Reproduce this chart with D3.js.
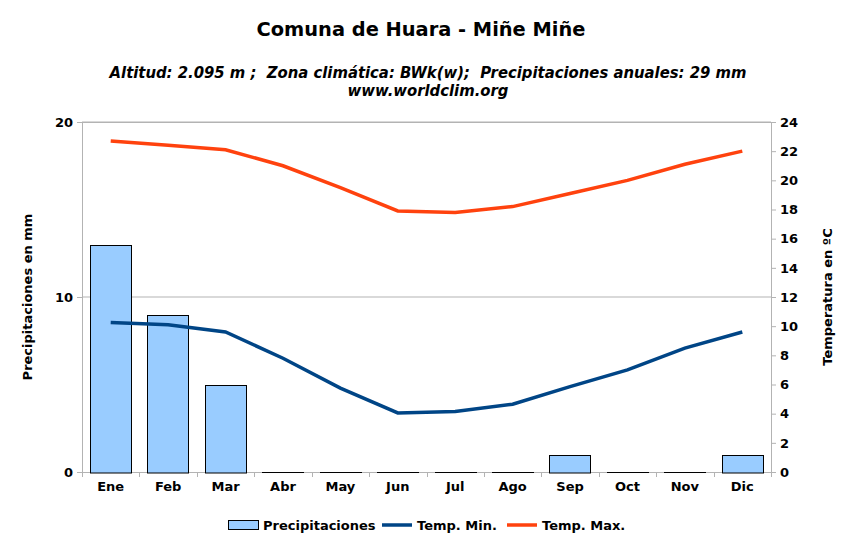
<!DOCTYPE html>
<html>
<head>
<meta charset="utf-8">
<script src="https://d3js.org/d3.v7.min.js"></script>
<style>
  body { margin: 0; background: #fff; }
  text { font-family: "DejaVu Sans", sans-serif; fill: #000; }
  .cond { font-family: "DejaVu Sans Condensed", "DejaVu Sans", sans-serif; font-stretch: condensed; white-space: pre; }
</style>
</head>
<body>
<div id="chart"></div>
<script>
// data
const months = ["Ene", "Feb", "Mar", "Abr", "May", "Jun", "Jul", "Ago", "Sep", "Oct", "Nov", "Dic"];
const precip = [13, 9, 5, 0, 0, 0, 0, 0, 1, 0, 0, 1];
const tempMin = [10.25, 10.1, 9.6, 7.8, 5.75, 4.05, 4.15, 4.65, 5.85, 7.0, 8.5, 9.6];
const tempMax = [22.7, 22.4, 22.1, 21.0, 19.5, 17.9, 17.8, 18.2, 19.1, 20.0, 21.1, 22.0];
const precipTicks = [0, 10, 20];
const tempTicks = d3.range(0, 25, 2);

const W = 857, H = 537;
const plot = { left: 82, right: 771, top: 122, bottom: 472 };

const svg = d3.select("#chart").append("svg")
  .attr("width", W).attr("height", H);

const x = d3.scaleBand().domain(months)
  .range([plot.left, plot.right]).paddingInner(0.28).paddingOuter(0.14);
const xb = d3.scaleBand().domain(months).range([plot.left, plot.right]);
const yP = d3.scaleLinear().domain([0, 20]).range([plot.bottom, plot.top]);
const yT = d3.scaleLinear().domain([0, 24]).range([plot.bottom, plot.top]);

// titles
svg.append("text")
  .attr("x", 421).attr("y", 36).attr("text-anchor", "middle")
  .style("font-size", "19.4px").style("font-weight", "bold")
  .text("Comuna de Huara - Miñe Miñe");
svg.append("text").attr("class", "cond").attr("xml:space", "preserve")
  .attr("x", 428).attr("y", 78).attr("text-anchor", "middle")
  .style("font-size", "16.5px").style("font-weight", "bold").style("font-style", "italic")
  .text("Altitud: 2.095 m ;  Zona climática: BWk(w);  Precipitaciones anuales: 29 mm");
svg.append("text").attr("class", "cond")
  .attr("x", 428).attr("y", 96).attr("text-anchor", "middle")
  .style("font-size", "16.5px").style("font-weight", "bold").style("font-style", "italic")
  .text("www.worldclim.org");

// grid
svg.append("g").selectAll("line").data(precipTicks.slice(1)).join("line")
  .attr("x1", plot.left).attr("x2", plot.right)
  .attr("y1", d => yP(d)).attr("y2", d => yP(d))
  .attr("stroke", "#b3b3b3").attr("stroke-width", 1);

// axes
const axisL = svg.append("g").attr("transform", `translate(${plot.left},0)`)
  .call(d3.axisLeft(yP).tickValues(precipTicks).tickSize(5).tickPadding(4));
const axisR = svg.append("g").attr("transform", `translate(${plot.right},0)`)
  .call(d3.axisRight(yT).tickValues(tempTicks).tickSize(5).tickPadding(4));
const axisB = svg.append("g").attr("transform", `translate(0,${plot.bottom})`)
  .call(d3.axisBottom(xb).tickSize(0).tickPadding(10));
[axisL, axisR, axisB].forEach(a => {
  a.selectAll("path, line").attr("stroke", "#b3b3b3");
  a.selectAll("text").style("font-size", "13px").style("font-weight", "bold")
    .style("font-family", "DejaVu Sans, sans-serif").attr("fill", "#000");
});
axisL.select("path").attr("d", `M0.5,${plot.top}V${plot.bottom + 5}`);
axisR.select("path").attr("d", `M0.5,${plot.top}V${plot.bottom + 5}`);
axisB.select("path").attr("d", `M${plot.left},0.5H${plot.right}`);
// category separators
axisB.append("g").selectAll("line").data(months.slice(1)).join("line")
  .attr("x1", d => Math.round(xb(d)) + 0.5).attr("x2", d => Math.round(xb(d)) + 0.5)
  .attr("y1", 0).attr("y2", 5).attr("stroke", "#b3b3b3");
svg.append("line")
  .attr("x1", plot.left).attr("x2", plot.right)
  .attr("y1", plot.top + 0.5).attr("y2", plot.top + 0.5).attr("stroke", "#b3b3b3");

// axis titles
svg.append("text")
  .attr("transform", `translate(32,${(plot.top + plot.bottom) / 2}) rotate(-90)`)
  .attr("text-anchor", "middle").style("font-size", "13px").style("font-weight", "bold")
  .text("Precipitaciones en mm");
svg.append("text")
  .attr("transform", `translate(832,${(plot.top + plot.bottom) / 2}) rotate(-90)`)
  .attr("text-anchor", "middle").style("font-size", "13px").style("font-weight", "bold")
  .text("Temperatura en ºC");

// bars
svg.append("g").selectAll("rect").data(precip).join("rect")
  .attr("x", (d, i) => Math.round(x(months[i])) + 0.5)
  .attr("y", d => Math.round(yP(d)) + 0.5)
  .attr("width", Math.round(x.bandwidth()))
  .attr("height", d => Math.max(0.01, yP(0) - yP(d)))
  .attr("fill", "#99ccff").attr("stroke", "#000").attr("stroke-width", 1);

// lines
const lineOf = vals => d3.line()
  .x((d, i) => xb(months[i]) + xb.bandwidth() / 2)
  .y(d => yT(d))(vals);
svg.append("path").attr("d", lineOf(tempMin))
  .attr("fill", "none").attr("stroke", "#004586").attr("stroke-width", 3.5);
svg.append("path").attr("d", lineOf(tempMax))
  .attr("fill", "none").attr("stroke", "#ff420e").attr("stroke-width", 3.5);

// legend
const lg = svg.append("g").attr("transform", "translate(0,525)");
lg.append("rect").attr("x", 228.5).attr("y", -4.5).attr("width", 30).attr("height", 9)
  .attr("fill", "#99ccff").attr("stroke", "#000");
lg.append("text").attr("x", 263).attr("y", 5).style("font-size", "13px").style("font-weight", "bold")
  .text("Precipitaciones");
lg.append("line").attr("x1", 382).attr("x2", 412).attr("y1", 0).attr("y2", 0)
  .attr("stroke", "#004586").attr("stroke-width", 3.5);
lg.append("text").attr("x", 417).attr("y", 5).style("font-size", "13px").style("font-weight", "bold")
  .text("Temp. Min.");
lg.append("line").attr("x1", 507).attr("x2", 537).attr("y1", 0).attr("y2", 0)
  .attr("stroke", "#ff420e").attr("stroke-width", 3.5);
lg.append("text").attr("x", 542).attr("y", 5).style("font-size", "13px").style("font-weight", "bold")
  .text("Temp. Max.");
</script>
</body>
</html>
